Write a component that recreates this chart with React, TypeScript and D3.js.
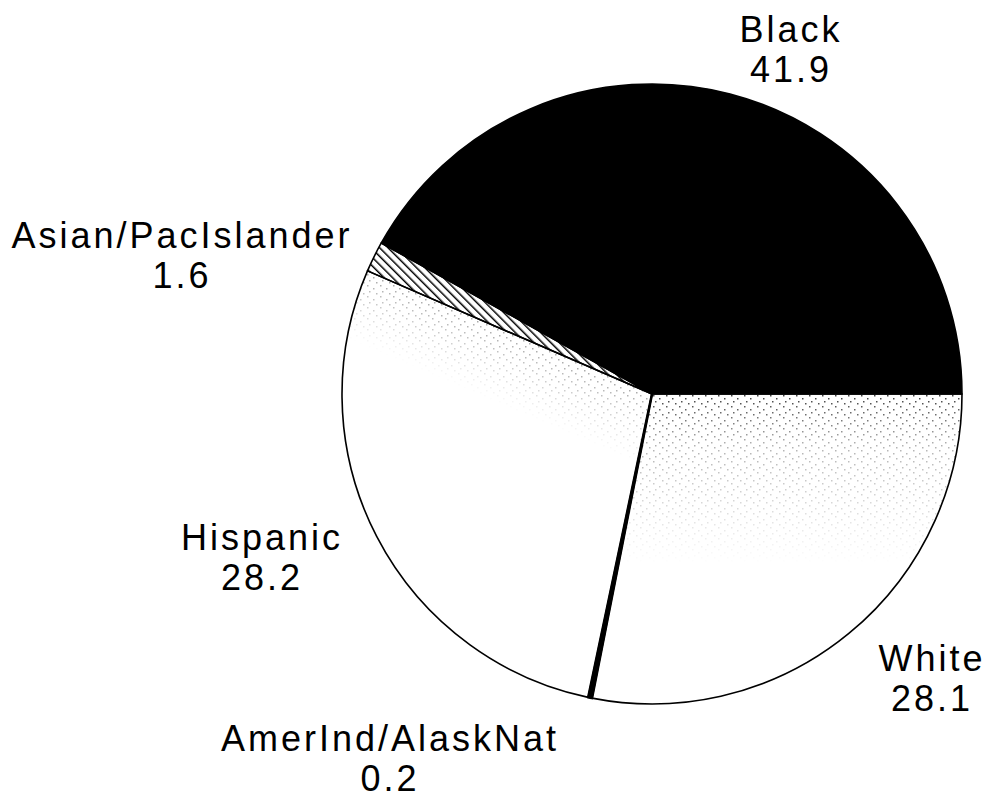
// Pie of shares by group; black wedge on top, hatched sliver, stippled white wedges.
import * as d3 from "d3";

const categories = ["Black", "Asian/PacIslander", "Hispanic", "AmerInd/AlaskNat", "White"];
const values = [41.9, 1.6, 28.2, 0.2, 28.1];
const valueLabels = ["41.9", "1.6", "28.2", "0.2", "28.1"];

// label anchors (centre x, baseline of first line), by category
const labelAt: Record<string, [number, number]> = {
  Black: [791, 42],
  "Asian/PacIslander": [182, 248],
  Hispanic: [262, 550],
  "AmerInd/AlaskNat": [390, 751],
  White: [932, 671],
};

const W = 991;
const H = 801;
const cx = 652;
const cy = 394;
const R = 310;

const fills: Record<string, string> = {
  Black: "#000",
  "Asian/PacIslander": "url(#hatch)",
  Hispanic: "#fff",
  "AmerInd/AlaskNat": "#000",
  White: "#fff",
};

export default function App() {
  const pie = d3
    .pie<number>()
    .sort(null)
    .startAngle(Math.PI / 2)
    .endAngle(Math.PI / 2 - 2 * Math.PI);
  const arcs = pie(values);
  const arc = d3.arc<d3.PieArcDatum<number>>().innerRadius(0).outerRadius(R);

  // stipple fade along the Hispanic / Asian boundary
  const hisp = arcs[2];
  const bx = Math.sin(hisp.startAngle) * 150;
  const by = -Math.cos(hisp.startAngle) * 150;
  const nx = -Math.cos(hisp.startAngle);
  const ny = -Math.sin(hisp.startAngle);

  return (
    <svg
      width={W}
      height={H}
      style={{ position: "absolute", left: 0, top: 0, background: "#fff" }}
      fontFamily="'Liberation Sans', Arial, sans-serif"
    >
      <defs>
        <pattern id="hatch" width={6} height={6} patternUnits="userSpaceOnUse" patternTransform="rotate(-45)">
          <rect width={6} height={6} fill="#fff" />
          <line x1={0} y1={0} x2={0} y2={6} stroke="#000" strokeWidth={3} />
        </pattern>
        <pattern id="stip" width={13} height={11} patternUnits="userSpaceOnUse">
          <rect x={1} y={1} width={1.5} height={1.5} fill="#000" />
          <rect x={7} y={4} width={1.5} height={1.5} fill="#000" />
          <rect x={3} y={7} width={1.5} height={1.5} fill="#000" />
          <rect x={10} y={9} width={1.5} height={1.5} fill="#000" />
        </pattern>
        <linearGradient id="fadeW" gradientUnits="userSpaceOnUse" x1={0} y1={0} x2={0} y2={170}>
          <stop offset="0" stopColor="#fff" stopOpacity={0.75} />
          <stop offset="0.3" stopColor="#fff" stopOpacity={0.3} />
          <stop offset="1" stopColor="#fff" stopOpacity={0} />
        </linearGradient>
        <linearGradient
          id="fadeH"
          gradientUnits="userSpaceOnUse"
          x1={bx}
          y1={by}
          x2={bx + nx * 70}
          y2={by + ny * 70}
        >
          <stop offset="0" stopColor="#fff" stopOpacity={0.35} />
          <stop offset="1" stopColor="#fff" stopOpacity={0} />
        </linearGradient>
        <mask id="maskW" maskUnits="userSpaceOnUse" x={-R} y={-R} width={2 * R} height={2 * R}>
          <rect x={-R} y={0} width={2 * R} height={R} fill="url(#fadeW)" />
        </mask>
        <mask id="maskH" maskUnits="userSpaceOnUse" x={-R} y={-R} width={2 * R} height={2 * R}>
          <rect x={-R} y={-R} width={2 * R} height={2 * R} fill="url(#fadeH)" />
        </mask>
      </defs>
      <g transform={`translate(${cx},${cy})`}>
        {arcs.map((a, i) => (
          <path key={categories[i]} d={arc(a) ?? ""} fill={fills[categories[i]]} />
        ))}
        <path d={arc(arcs[4]) ?? ""} fill="url(#stip)" mask="url(#maskW)" />
        <path d={arc(arcs[2]) ?? ""} fill="url(#stip)" mask="url(#maskH)" />
        {arcs.map((a, i) => (
          <path
            key={`o-${categories[i]}`}
            d={arc(a) ?? ""}
            fill="none"
            stroke="#000"
            strokeWidth={categories[i] === "AmerInd/AlaskNat" ? 2.5 : 1.6}
            strokeLinejoin="round"
          />
        ))}
      </g>
      {categories.map((c, i) => {
        const [x, y] = labelAt[c];
        return (
          <text
            key={`t-${c}`}
            x={x}
            y={y}
            textAnchor="middle"
            fontSize={36}
            letterSpacing={3}
            fill="#000"
          >
            <tspan x={x} y={y}>{c}</tspan>
            <tspan x={x} y={y + 40}>{valueLabels[i]}</tspan>
          </text>
        );
      })}
    </svg>
  );
}
